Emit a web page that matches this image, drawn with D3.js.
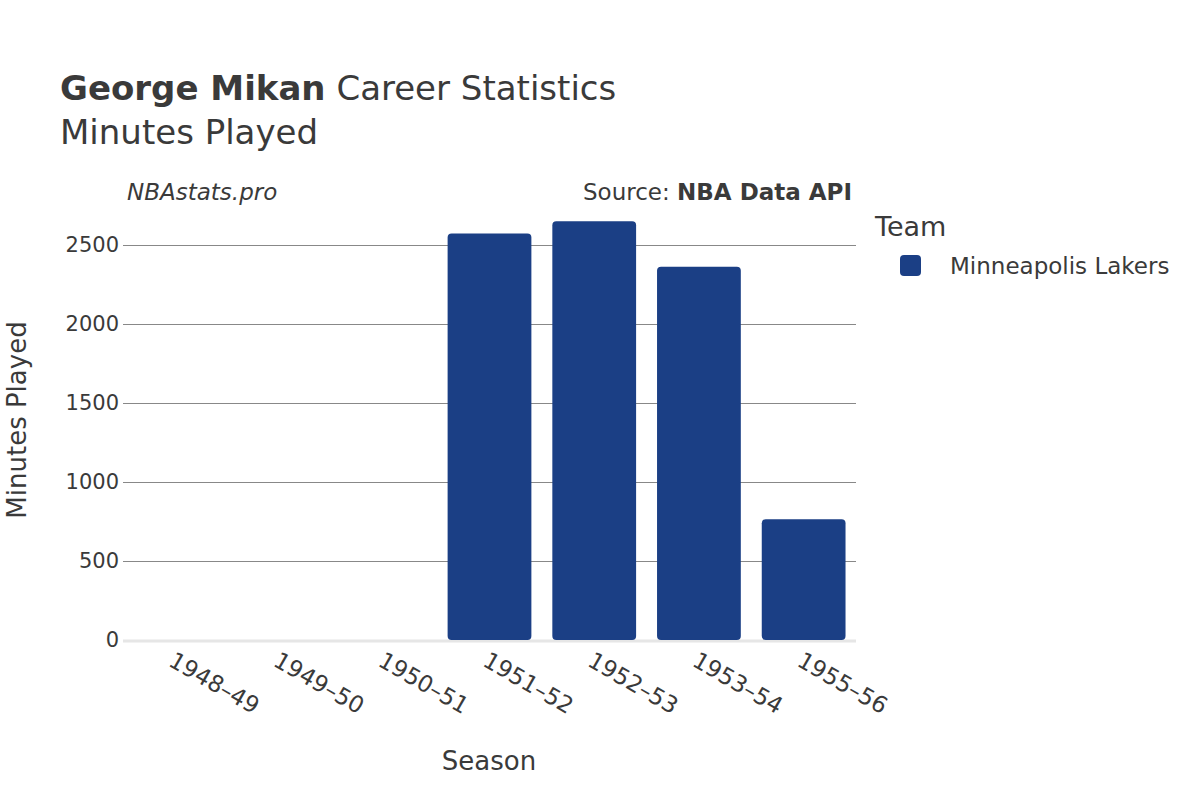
<!DOCTYPE html>
<html><head><meta charset="utf-8">
<script src="https://cdn.jsdelivr.net/npm/d3@7"></script>
<style>body{margin:0;background:#fff}text{font-family:"DejaVu Sans",sans-serif;fill:#3a3a3a}</style>
</head><body><svg width="1200" height="800"></svg>
<script>
var seasons = ["1948–49","1949–50","1950–51","1951–52","1952–53","1953–54","1955–56"];
var minutes = [0, 0, 0, 2572, 2651, 2362, 764];
var yTicks = [0, 500, 1000, 1500, 2000, 2500];

var svg = d3.select("svg");
var left = 123, right = 856, bottom = 640;

var x = d3.scaleBand().domain(seasons).range([left, right]).paddingInner(0.2).paddingOuter(0.1);
var y = d3.scaleLinear().domain([0, 2500]).range([bottom, 245]);

// grid
svg.append("g").selectAll("line").data(yTicks.slice(1)).enter().append("line")
	.attr("x1", left).attr("x2", right)
	.attr("y1", function(d) { return Math.round(y(d)) + 0.5; }).attr("y2", function(d) { return Math.round(y(d)) + 0.5; })
	.attr("stroke", "#888").attr("stroke-width", 1);
svg.append("line").attr("x1", left).attr("x2", right).attr("y1", bottom + 1).attr("y2", bottom + 1)
	.attr("stroke", "#e6e6e6").attr("stroke-width", 3);

// bars
svg.append("g").selectAll("rect").data(seasons).enter().append("rect")
	.attr("x", function(d) { return x(d); })
	.attr("y", function(d, i) { return y(minutes[i]); })
	.attr("width", x.bandwidth())
	.attr("height", function(d, i) { return bottom - y(minutes[i]); })
	.attr("rx", 4).attr("fill", "#1b3f85")
	.style("display", function(d, i) { return minutes[i] > 0 ? null : "none"; });

// y labels
svg.append("g").selectAll("text").data(yTicks).enter().append("text")
	.attr("x", left - 4).attr("y", function(d) { return y(d) + 7; })
	.attr("text-anchor", "end").attr("font-size", 21).text(function(d) { return d; });

// x labels
svg.append("g").selectAll("text").data(seasons).enter().append("text")
	.attr("transform", function(d) { return "translate(" + (x(d) + x.bandwidth() / 2 - 8) + ",665) rotate(30)"; })
	.attr("font-size", 23).text(function(d) { return d; });

svg.append("text").attr("x", 489).attr("y", 770).attr("text-anchor", "middle").attr("font-size", 26).text("Season");
svg.append("text").attr("transform", "translate(26,420) rotate(-90)").attr("text-anchor", "middle").attr("font-size", 26).text("Minutes Played");

var t = svg.append("text").attr("x", 60).attr("y", 100).attr("font-size", 34);
t.append("tspan").attr("font-weight", "bold").text("George Mikan");
t.append("tspan").text(" Career Statistics");
svg.append("text").attr("x", 60).attr("y", 144).attr("font-size", 34).text("Minutes Played");

svg.append("text").attr("x", 127).attr("y", 200).attr("font-size", 23).attr("font-style", "italic").text("NBAstats.pro");
var s = svg.append("text").attr("x", 852).attr("y", 200).attr("font-size", 23).attr("text-anchor", "end");
s.append("tspan").text("Source: ");
s.append("tspan").attr("font-weight", "bold").text("NBA Data API");

svg.append("text").attr("x", 875).attr("y", 236).attr("font-size", 27).text("Team");
svg.append("rect").attr("x", 900).attr("y", 255).attr("width", 21).attr("height", 21).attr("rx", 4).attr("fill", "#1b3f85");
svg.append("text").attr("x", 950).attr("y", 274).attr("font-size", 23).text("Minneapolis Lakers");
</script></body></html>
